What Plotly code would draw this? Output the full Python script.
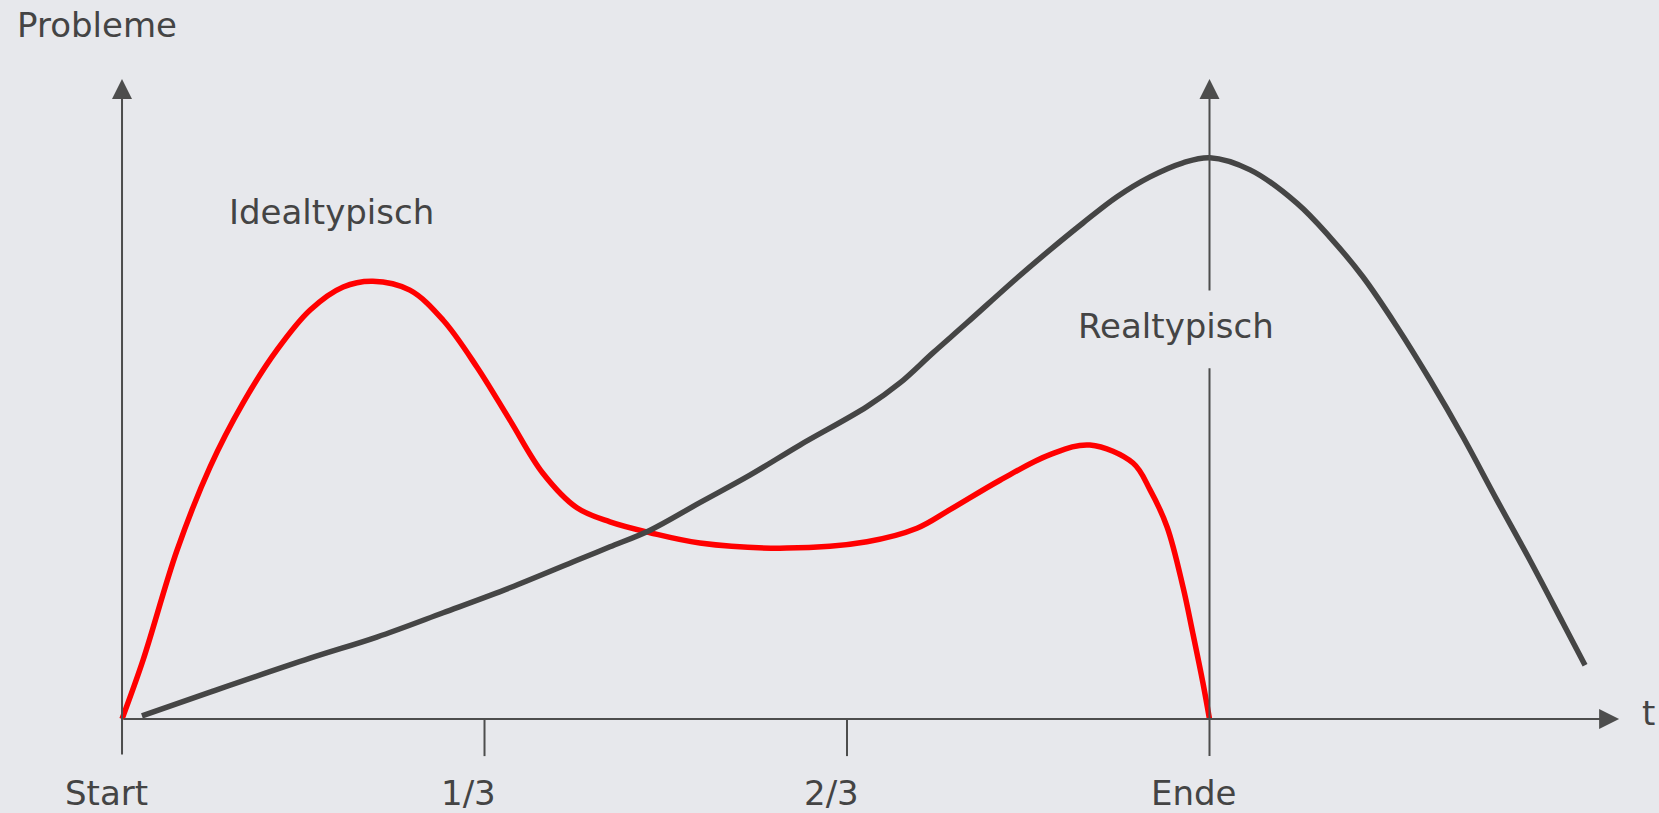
import plotly.graph_objects as go

# Idealtypisch (red) curve, t in thirds of the project, problems 0..100
ideal_t = [0.0, 0.058, 0.152, 0.243, 0.334, 0.428, 0.519, 0.610, 0.692, 0.794,
           0.886, 0.979, 1.070, 1.161, 1.255, 1.346, 1.457, 1.594, 1.834, 2.055,
           2.193, 2.284, 2.422, 2.560, 2.670, 2.789, 2.836, 2.883, 2.927, 2.954,
           2.982, 3.0]
ideal_p = [0.0, 9.2, 26.4, 39.4, 49.4, 57.7, 63.9, 67.5, 68.4, 67.0,
           62.3, 55.0, 46.7, 38.4, 33.0, 30.8, 29.1, 27.5, 26.7, 27.7,
           29.8, 32.7, 37.3, 41.3, 42.8, 40.0, 35.8, 30.0, 20.6, 13.4,
           5.6, 0.0]

# Realtypisch (dark) curve
real_t = [0.055, 0.243, 0.519, 0.703, 0.886, 1.070, 1.255, 1.346, 1.457, 1.594,
          1.732, 1.870, 2.055, 2.146, 2.237, 2.331, 2.469, 2.560, 2.651, 2.745,
          2.836, 2.927, 3.001, 3.112, 3.241, 3.332, 3.423, 3.517, 3.608, 3.699,
          3.793, 3.884, 3.975, 4.036]
real_p = [0.5, 4.2, 9.5, 12.8, 16.6, 20.5, 24.8, 26.9, 29.5, 33.8,
          38.1, 42.8, 48.8, 52.5, 57.2, 61.9, 68.9, 73.3, 77.5, 81.6,
          84.7, 86.9, 87.7, 85.8, 80.6, 75.3, 69.1, 61.3, 53.0, 44.1,
          34.2, 24.8, 15.0, 8.4]

tick_pos = [0, 1, 2, 3]
tick_labels = ["Start", "1/3", "2/3", "Ende"]

BG = "#E7E8EC"
AXIS = "#4d4d4d"
TEXT = "#444444"
FONT = "DejaVu Sans"
FS = 34

fig = go.Figure()
fig.add_trace(go.Scatter(x=ideal_t, y=ideal_p, mode="lines",
                         line=dict(color="#FF0000", width=5.5, shape="spline", smoothing=1),
                         hoverinfo="skip"))
fig.add_trace(go.Scatter(x=real_t, y=real_p, mode="lines",
                         line=dict(color="#454545", width=5.5, shape="spline", smoothing=1),
                         hoverinfo="skip"))

# axis arrows
arrow = dict(text="", showarrow=True, axref="x", ayref="y", xref="x", yref="y",
             arrowhead=2, arrowsize=2.0, arrowwidth=2, arrowcolor=AXIS)
fig.add_annotation(x=0, y=100, ax=0, ay=-5.8, **arrow)
fig.add_annotation(x=4.13, y=0, ax=0, ay=0, **arrow)
fig.add_annotation(x=3, y=100, ax=3, ay=66.7, **arrow)

# ticks and lower part of the "Ende" line
for t in tick_pos[1:3]:
    fig.add_shape(type="line", x0=t, x1=t, y0=0, y1=-5.8, line=dict(color=AXIS, width=2))
fig.add_shape(type="line", x0=3, x1=3, y0=-5.8, y1=54.8, line=dict(color=AXIS, width=2))

for t, lab in zip(tick_pos, tick_labels):
    fig.add_annotation(x=t, y=-11.55, text=lab, showarrow=False, xshift=-16,
                       font=dict(family=FONT, size=FS, color=TEXT))

fig.add_annotation(x=-0.295, y=108.4, text="Probleme", showarrow=False, xanchor="left",
                   font=dict(family=FONT, size=FS, color=TEXT))
fig.add_annotation(x=4.21, y=1.0, text="t", showarrow=False,
                   font=dict(family=FONT, size=FS, color=TEXT))
fig.add_annotation(x=0.577, y=79.2, text="Idealtypisch", showarrow=False,
                   font=dict(family=FONT, size=FS, color=TEXT))
fig.add_annotation(x=2.908, y=61.4, text="Realtypisch", showarrow=False,
                   font=dict(family=FONT, size=FS, color=TEXT))

fig.update_layout(width=1659, height=813, margin=dict(l=0, r=0, t=0, b=0),
                  paper_bgcolor=BG, plot_bgcolor=BG, showlegend=False,
                  xaxis=dict(visible=False, range=[-0.3366, 4.240], fixedrange=True),
                  yaxis=dict(visible=False, range=[-14.69, 112.34], fixedrange=True))

fig.write_html("out.html", config={"displayModeBar": False},
               post_script="document.body.style.margin='0';")
